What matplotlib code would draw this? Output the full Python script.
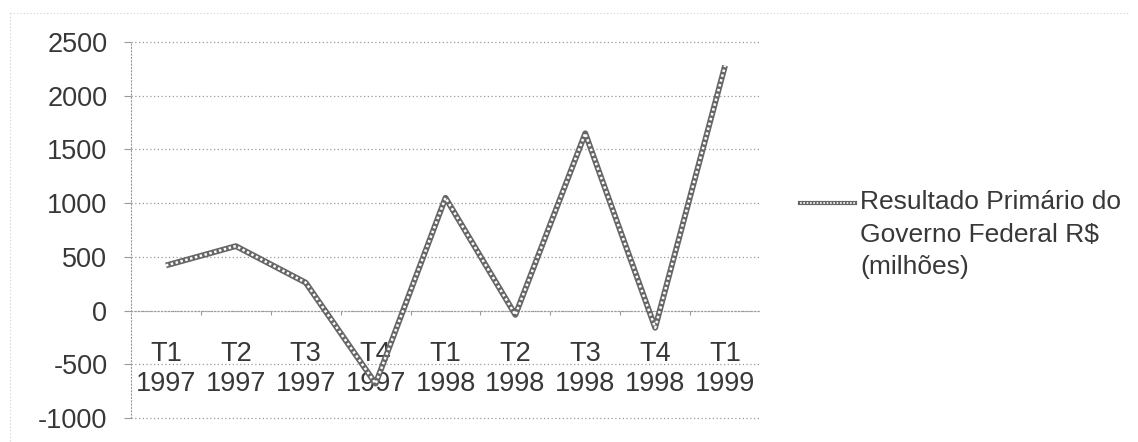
import matplotlib.pyplot as plt
from matplotlib.lines import Line2D

# Resultado primário trimestral do Governo Federal (R$ milhões)
quarters = ["T1", "T2", "T3", "T4", "T1", "T2", "T3", "T4", "T1"]
years = ["1997", "1997", "1997", "1997", "1998", "1998", "1998", "1998", "1999"]
resultado = [420, 600, 260, -680, 1050, -40, 1650, -160, 2280]
series_label = "Resultado Primário do\nGoverno Federal R$\n(milhões)"

plt.rcParams['font.family'] = ['Liberation Sans', 'DejaVu Sans']
plt.rcParams['axes.unicode_minus'] = False
text_color = "#383838"
grid_color = "#9a9a9a"
line_color = "#666666"
fs = 19.5

fig = plt.figure(figsize=(11.38, 4.42), dpi=100)
ax = fig.add_axes([131 / 1138, 1 - 418 / 442, 629 / 1138, 376 / 442])

x = list(range(len(resultado)))

# patterned line: grey base with a broken white core
ax.plot(x, resultado, color=line_color, lw=4.2, solid_capstyle="butt", zorder=3)
ax.plot(x, resultado, color="white", lw=1.8, dashes=(1.0, 1.0), zorder=4)

ax.set_xlim(-0.5, len(resultado) - 0.5)
ax.set_ylim(-1000, 2500)
ax.set_yticks(range(-1000, 2501, 500))
ax.yaxis.grid(True, linestyle=(0, (1, 2)), color=grid_color, lw=0.9)
for gl in ax.get_ygridlines():
    gl.set_clip_on(False)
ax.set_axisbelow(True)

for side in ("top", "right"):
    ax.spines[side].set_visible(False)
ax.spines["left"].set_linestyle((0, (1, 2)))
ax.spines["left"].set_color(grid_color)
ax.spines["bottom"].set_position(("data", 0))
ax.spines["bottom"].set_linestyle((0, (1, 2)))
ax.spines["bottom"].set_color(grid_color)

ax.tick_params(axis="y", length=5, color=grid_color, width=0.8, pad=12,
               labelsize=fs, labelcolor=text_color)

# category labels at the centres, small marks at the boundaries
ax.set_xticks(x)
ax.set_xticklabels([f"{q}\n{y}" for q, y in zip(quarters, years)])
ax.set_xticks([i + 0.5 for i in x[:-1]], minor=True)
ax.tick_params(axis="x", which="major", length=0, pad=22,
               labelsize=fs, labelcolor=text_color)
ax.tick_params(axis="x", which="minor", length=3, color=grid_color, width=0.8)

# legend
legend_y = 1 - 203 / 442
fig.add_artist(Line2D([800 / 1138, 855 / 1138], [legend_y] * 2,
                      color=line_color, lw=3, transform=fig.transFigure))
fig.add_artist(Line2D([800 / 1138, 855 / 1138], [legend_y] * 2,
                      color="white", lw=1.2, dashes=(1, 1),
                      transform=fig.transFigure))
fig.text(860 / 1138, 1 - 190 / 442, series_label, fontsize=19,
         color=text_color, va="top", ha="left", linespacing=1.45)

# chart area border (top and left edges)
border = dict(color="#cfcfcf", lw=0.8, linestyle=(0, (1, 2)),
              transform=fig.transFigure)
fig.add_artist(Line2D([10 / 1138, 1130 / 1138], [1 - 13 / 442] * 2, **border))
fig.add_artist(Line2D([10 / 1138, 10 / 1138], [1 - 13 / 442, 0], **border))

fig.savefig("out.png", dpi=100)
